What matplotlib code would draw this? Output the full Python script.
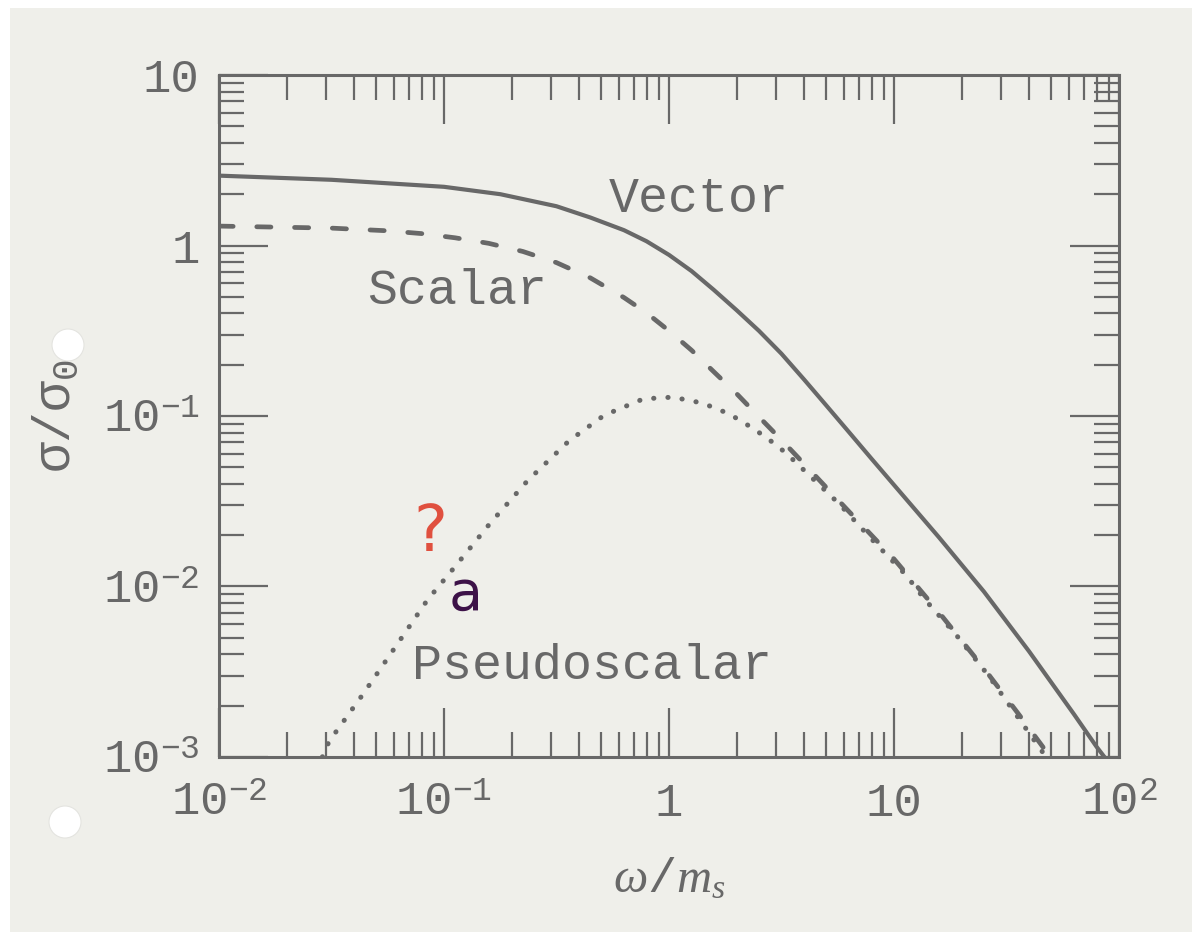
import matplotlib
matplotlib.use("Agg")
import matplotlib.pyplot as plt
from matplotlib.patches import Ellipse, Rectangle
from matplotlib.ticker import LogLocator, NullFormatter, FixedLocator, FixedFormatter

plt.rcParams['font.family'] = ['Liberation Mono', 'DejaVu Sans']
plt.rcParams['mathtext.fontset'] = 'custom'
plt.rcParams['mathtext.rm'] = 'Liberation Mono'
plt.rcParams['mathtext.it'] = 'Liberation Serif:italic'
plt.rcParams['mathtext.bf'] = 'Liberation Mono:bold'

INK = '#686868'
PAPER = '#efefea'

# cross sections sigma/sigma_0 versus omega/m_s
vector_w = [0.01, 0.0316, 0.1, 0.178, 0.316, 0.447, 0.631, 0.794, 1.0, 1.26,
            1.58, 2.0, 2.51, 3.16, 3.98, 5.01, 6.31, 7.94, 10, 15.8, 25.1,
            39.8, 63.1, 79.4, 86.1]
vector_s = [2.57, 2.43, 2.21, 2.00, 1.70, 1.46, 1.23, 1.06, 0.881, 0.708,
            0.550, 0.417, 0.316, 0.232, 0.164, 0.115, 0.0804, 0.0562, 0.0394,
            0.0195, 0.00933, 0.00417, 0.00178, 0.00115, 0.001]

scalar_w = [0.01, 0.0316, 0.0562, 0.0794, 0.112, 0.158, 0.224, 0.316, 0.447,
            0.631, 0.794, 1.0, 1.26, 1.58, 2.0, 2.51, 3.16, 3.98, 5.01, 6.31,
            7.94, 10, 15.8, 25.1, 36.3, 44.7, 49.5]
scalar_s = [1.30, 1.265, 1.22, 1.175, 1.11, 1.03, 0.923, 0.794, 0.646, 0.495,
            0.403, 0.316, 0.243, 0.182, 0.135, 0.0989, 0.0724, 0.0525, 0.038,
            0.0275, 0.020, 0.0145, 0.00708, 0.00331, 0.00174, 0.0012, 0.001]

pseudo_w = [0.0288, 0.0308, 0.0437, 0.0608, 0.0843, 0.111, 0.160, 0.235, 0.359,
            0.515, 0.769, 1.04, 1.41, 1.85, 2.39, 3.0, 3.39, 5.71, 7.94, 11.35,
            13.6, 19.05, 26.3, 45.7, 47.9]
pseudo_s = [0.001, 0.00123, 0.00234, 0.00442, 0.00832, 0.0129, 0.0234, 0.0417,
            0.0714, 0.101, 0.126, 0.129, 0.119, 0.103, 0.0839, 0.0676, 0.0589,
            0.0305, 0.019, 0.0116, 0.0085, 0.00513, 0.0030, 0.00107, 0.001]

x_ticks = [0.01, 0.1, 1, 10, 100]
x_labels = [r'$10^{-2}$', r'$10^{-1}$', '1', '10', r'$10^{2}$']
y_ticks = [0.001, 0.01, 0.1, 1, 10]
y_labels = [r'$10^{-3}$', r'$10^{-2}$', r'$10^{-1}$', '1', '10']

fig = plt.figure(figsize=(12, 9.38), dpi=100, facecolor='white')
fig.patches.append(Rectangle((0.008, 0.006), 0.985, 0.985, transform=fig.transFigure,
                             facecolor=PAPER, edgecolor='none', zorder=-10))
# punched holes on the left margin
for cx, cy in [(68, 345), (65, 822)]:
    fig.patches.append(Ellipse((cx / 1200, 1 - cy / 938), 32 / 1200, 32 / 938,
                               transform=fig.transFigure, facecolor='white',
                               edgecolor='#e4e4e0', lw=0.8, zorder=-5))

ax = fig.add_axes([0.1825, 0.193, 0.75, 0.727])
ax.set_facecolor('none')
ax.set_xscale('log')
ax.set_yscale('log')
ax.set_xlim(0.01, 100)
ax.set_ylim(0.001, 10)

ax.plot(vector_w, vector_s, color=INK, lw=3.0, solid_capstyle='round',
        solid_joinstyle='round')
ax.plot(scalar_w, scalar_s, color=INK, lw=3.4, linestyle=(0, (3.0, 5.0)),
        dash_capstyle='round')
ax.plot(pseudo_w, pseudo_s, color=INK, lw=3.6, linestyle=(0, (0.05, 2.8)),
        dash_capstyle='round')

ax.xaxis.set_major_locator(FixedLocator(x_ticks))
ax.xaxis.set_major_formatter(FixedFormatter(x_labels))
ax.yaxis.set_major_locator(FixedLocator(y_ticks))
ax.yaxis.set_major_formatter(FixedFormatter(y_labels))
for axis in (ax.xaxis, ax.yaxis):
    axis.set_minor_locator(LogLocator(base=10, subs=range(2, 10), numticks=20))
    axis.set_minor_formatter(NullFormatter())

ax.tick_params(which='both', direction='in', top=True, right=True,
               color=INK, width=1.6, labelcolor=INK, labelsize=34)
ax.tick_params(which='major', length=35)
ax.tick_params(which='minor', length=18)
ax.tick_params(axis='x', which='major', pad=18)
ax.tick_params(axis='y', which='major', pad=14)
for sp in ax.spines.values():
    sp.set_color(INK)
    sp.set_linewidth(2.2)

ax.set_xlabel(r'$\omega/m_s$', fontsize=35, color=INK, labelpad=22)
ax.set_ylabel(r'$\mathrm{\sigma/\sigma_0}$', fontsize=37, color=INK, labelpad=16)

ax.text(1.35, 1.87, 'Vector', fontsize=36, color=INK, ha='center', va='center')
ax.text(0.114, 0.54, 'Scalar', fontsize=36, color=INK, ha='center', va='center')
ax.text(0.457, 0.0034, 'Pseudoscalar', fontsize=36, color=INK, ha='center', va='center')

# pen marks added on the printed figure
ax.text(0.087, 0.0205, '?', fontsize=46, color='#e0503f', ha='center', va='center',
        family=['DejaVu Sans'])
ax.text(0.125, 0.0089, 'a', fontsize=40, color='#3d1248', ha='center', va='center',
        family=['DejaVu Sans'])

fig.savefig('out.png', dpi=100, facecolor='white')
